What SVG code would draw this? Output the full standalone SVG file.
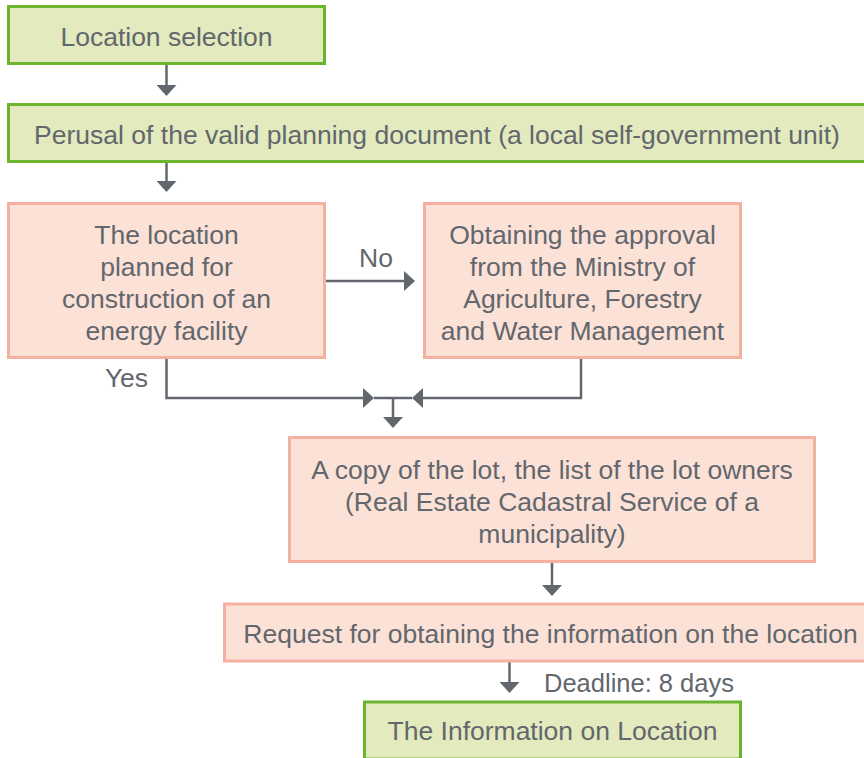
<svg xmlns="http://www.w3.org/2000/svg" width="864" height="758" viewBox="0 0 864 758">
<style>
  .g { fill: #e3eabd; stroke: #6cb42e; stroke-width: 3; }
  .p { fill: #fce1d7; stroke: #f4b0a1; stroke-width: 3; }
  text { font-family: "Liberation Sans", Arial, sans-serif; font-size: 26.5px; fill: #62676d; }
  .c { text-anchor: middle; }
  .ln { fill: none; stroke: #62676d; stroke-width: 2.5; }
</style>
<defs>
  <marker id="ah" viewBox="0 0 11 20" refX="0" refY="10" markerWidth="11" markerHeight="20" markerUnits="userSpaceOnUse" orient="auto">
    <path d="M0,0 L11,10 L0,20 Z" fill="#62676d"/>
  </marker>
</defs>
<rect width="864" height="758" fill="#ffffff"/>

<g id="connectors">
  <line class="ln" x1="166.5" y1="65" x2="166.5" y2="85" marker-end="url(#ah)"/>
  <line class="ln" x1="166.5" y1="163" x2="166.5" y2="181" marker-end="url(#ah)"/>
  <line class="ln" x1="326" y1="281" x2="404" y2="281" marker-end="url(#ah)"/>
  <polyline class="ln" points="166.5,359 166.5,398 363,398" marker-end="url(#ah)"/>
  <polyline class="ln" points="581,359 581,398 423,398" marker-end="url(#ah)"/>
  <line class="ln" x1="374" y1="398" x2="412" y2="398"/>
  <line class="ln" x1="393" y1="398" x2="393" y2="417" marker-end="url(#ah)"/>
  <line class="ln" x1="552" y1="563" x2="552" y2="585" marker-end="url(#ah)"/>
  <line class="ln" x1="509.5" y1="662" x2="509.5" y2="682" marker-end="url(#ah)"/>
  <text x="376" y="267" class="c">No</text>
  <text x="126.5" y="387" class="c">Yes</text>
  <text x="544" y="692" style="font-size:25.5px">Deadline: 8 days</text>
</g>

<g id="n1">
  <rect class="g" x="8.5" y="6.5" width="316" height="57"/>
  <text x="166.5" y="46" class="c">Location selection</text>
</g>
<g id="n2">
  <rect class="g" x="8.5" y="104.5" width="880" height="57"/>
  <text x="437" y="144" class="c">Perusal of the valid planning document (a local self-government unit)</text>
</g>
<g id="n3">
  <rect class="p" x="8.5" y="203.5" width="316" height="154"/>
  <text class="c" x="166.5" y="244">The location</text>
  <text class="c" x="166.5" y="276">planned for</text>
  <text class="c" x="166.5" y="308">construction of an</text>
  <text class="c" x="166.5" y="340">energy facility</text>
</g>
<g id="n4">
  <rect class="p" x="424.5" y="203.5" width="316" height="154"/>
  <text class="c" x="582.5" y="244">Obtaining the approval</text>
  <text class="c" x="582.5" y="276">from the Ministry of</text>
  <text class="c" x="582.5" y="308">Agriculture, Forestry</text>
  <text class="c" x="582.5" y="340">and Water Management</text>
</g>
<g id="n5">
  <rect class="p" x="289.5" y="437.5" width="525" height="124"/>
  <text class="c" x="552" y="479">A copy of the lot, the list of the lot owners</text>
  <text class="c" x="552" y="511">(Real Estate Cadastral Service of a</text>
  <text class="c" x="552" y="543">municipality)</text>
</g>
<g id="n6">
  <rect class="p" x="224.5" y="604" width="660" height="57"/>
  <text class="c" x="550.5" y="643">Request for obtaining the information on the location</text>
</g>
<g id="n7">
  <rect class="g" x="364.5" y="702" width="376" height="57"/>
  <text class="c" x="552.5" y="740">The Information on Location</text>
</g>
</svg>
